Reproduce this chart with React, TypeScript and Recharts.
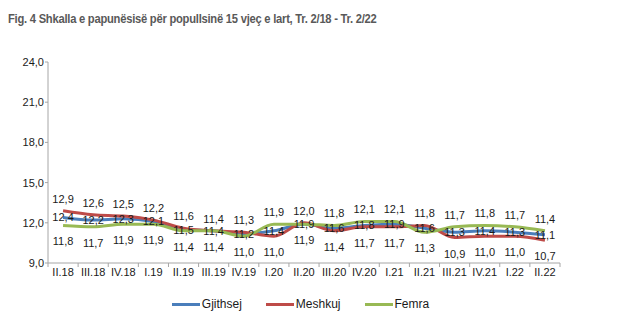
import { LineChart, Line, XAxis, YAxis, LabelList } from 'recharts';

const quarters = ['II.18', 'III.18', 'IV.18', 'I.19', 'II.19', 'III.19', 'IV.19', 'I.20', 'II.20', 'III.20', 'IV.20', 'I.21', 'II.21', 'III.21', 'IV.21', 'I.22', 'II.22'];
const gjithsej = [12.4, 12.2, 12.3, 12.1, 11.5, 11.4, 11.2, 11.4, 11.9, 11.6, 11.8, 11.9, 11.6, 11.3, 11.4, 11.3, 11.1];
const meshkuj = [12.9, 12.6, 12.5, 12.2, 11.6, 11.4, 11.3, 11.0, 12.0, 11.4, 11.7, 11.7, 11.8, 10.9, 11.0, 11.0, 10.7];
const femra = [11.8, 11.7, 11.9, 11.9, 11.4, 11.4, 11.0, 11.9, 11.9, 11.8, 12.1, 12.1, 11.3, 11.7, 11.8, 11.7, 11.4];
const yTicks = [9, 12, 15, 18, 21, 24];

const series = [
  { key: 'gjithsej', name: 'Gjithsej', color: '#4a7ebb', values: gjithsej },
  { key: 'meshkuj', name: 'Meshkuj', color: '#be4b48', values: meshkuj },
  { key: 'femra', name: 'Femra', color: '#98b954', values: femra },
];
// order used to break ties when ranking labels (top -> bottom)
const tieOrder = ['meshkuj', 'gjithsej', 'femra'];

const data = quarters.map((q, i) => ({
  q,
  gjithsej: gjithsej[i],
  meshkuj: meshkuj[i],
  femra: femra[i],
}));

const fmt = (v: number) => v.toFixed(1).replace('.', ',');

const W = 627;
const H = 330;
const margin = { top: 62, right: 67, bottom: 47, left: 0 };
const yAxisWidth = 48;
const step = (W - margin.left - margin.right - yAxisWidth) / quarters.length;
const FONT = '"Liberation Sans", Arial, sans-serif';

function rankOf(key: string, i: number) {
  const sorted = [...tieOrder].sort((a, b) => {
    const va = data[i][a as 'gjithsej'];
    const vb = data[i][b as 'gjithsej'];
    if (vb !== va) return vb - va;
    return tieOrder.indexOf(a) - tieOrder.indexOf(b);
  });
  return sorted.indexOf(key);
}

function makeLabel(key: string) {
  return (props: any) => {
    const { x, y, value, index } = props;
    const r = rankOf(key, index);
    const dy = r === 0 ? -12 : r === 2 ? 16 : 0;
    return (
      <text x={x} y={y + dy} textAnchor="middle" dominantBaseline="central" fontSize={11} fill="#1a1a1a" fontFamily={FONT}>
        {fmt(value)}
      </text>
    );
  };
}

function QuarterTick({ x, y, payload, index }: any) {
  const left = x - step / 2;
  const right = x + step / 2;
  return (
    <g>
      <line x1={left} y1={y} x2={left} y2={y + 4} stroke="#a6a6a6" />
      {index === quarters.length - 1 && <line x1={right} y1={y} x2={right} y2={y + 4} stroke="#a6a6a6" />}
      <text x={x} y={y + 13} textAnchor="middle" fontSize={11} fill="#1a1a1a" fontFamily={FONT}>
        {payload.value}
      </text>
    </g>
  );
}

export default function App() {
  return (
    <div style={{ position: 'absolute', left: 0, top: 0, width: W, height: H, background: '#fff', fontFamily: FONT }}>
      <div
        style={{
          position: 'absolute',
          left: 8,
          top: 11,
          fontFamily: FONT,
          fontWeight: 'bold',
          fontSize: 13.5,
          letterSpacing: -0.3,
          color: '#595959',
          whiteSpace: 'nowrap',
          transform: 'scaleX(0.83)',
          transformOrigin: 'left top',
        }}
      >
        Fig. 4 Shkalla e papunësisë për popullsinë 15 vjeç e lart, Tr. 2/18 - Tr. 2/22
      </div>
      <LineChart width={W} height={H} data={data} margin={margin} style={{ fontFamily: FONT }}>
        <XAxis
          dataKey="q"
          interval={0}
          tickLine={false}
          tickSize={0}
          tickMargin={0}
          padding={{ left: step / 2, right: step / 2 }}
          axisLine={{ stroke: '#a6a6a6' }}
          tick={QuarterTick as never}
          height={20}
        />
        <YAxis
          domain={[9, 24]}
          ticks={yTicks}
          width={yAxisWidth}
          tickFormatter={fmt}
          tickSize={3}
          tickMargin={1}
          axisLine={{ stroke: '#a6a6a6' }}
          tickLine={{ stroke: '#a6a6a6' }}
          tick={{ fontSize: 11, fill: '#1a1a1a', fontFamily: FONT }}
        />
        {series.map((s) => (
          <Line
            key={s.key}
            type="monotone"
            dataKey={s.key}
            name={s.name}
            stroke={s.color}
            strokeWidth={3}
            dot={false}
            isAnimationActive={false}
          >
            <LabelList dataKey={s.key} content={makeLabel(s.key) as never} />
          </Line>
        ))}
      </LineChart>
      <div
        style={{
          position: 'absolute',
          top: 297,
          left: 0,
          width: W,
          display: 'flex',
          justifyContent: 'center',
          paddingRight: 26,
          boxSizing: 'border-box',
          fontSize: 12,
          color: '#1a1a1a',
        }}
      >
        {series.map((s) => (
          <div key={s.key} style={{ display: 'flex', alignItems: 'center', margin: '0 12px' }}>
            <div style={{ width: 28, height: 3, background: s.color, marginRight: 2 }} />
            <span>{s.name}</span>
          </div>
        ))}
      </div>
    </div>
  );
}
